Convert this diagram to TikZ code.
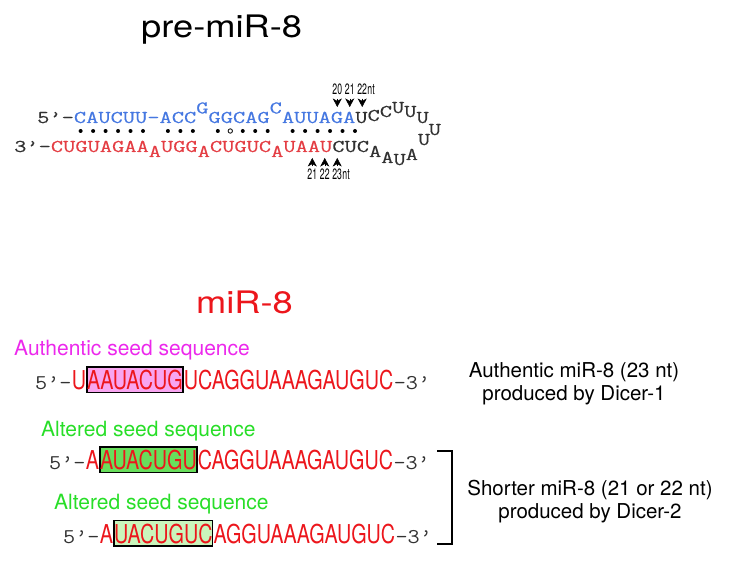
\documentclass[tikz,border=0pt]{standalone}
\usepackage{fontspec}
\usepackage{graphicx}
\setmainfont{TeX Gyre Heros}
\newfontfamily\stemfont{Latin Modern Mono}[FakeStretch=1.32, FakeBold=0.4]
\newfontfamily\endfont{Latin Modern Mono}[FakeStretch=1.12]
\usetikzlibrary{arrows.meta, positioning}

\definecolor{stemblue}{RGB}{70,120,225}
\definecolor{stemred}{RGB}{228,62,68}
\definecolor{stemgray}{RGB}{50,50,50}
\definecolor{seqred}{RGB}{236,22,28}
\definecolor{authpink}{RGB}{236,40,236}
\definecolor{altgreen}{RGB}{40,222,40}
\definecolor{seedpink}{RGB}{248,165,240}
\definecolor{seedgreen}{RGB}{104,222,92}
\definecolor{seedpale}{RGB}{202,245,188}

\newcommand{\seqnarrow}[1]{\scalebox{0.76}[1]{#1}}
\newcommand{\titlewide}[1]{\scalebox{1.17}[1]{#1}}
\newcommand{\cutnarrow}[1]{\scalebox{0.58}[1]{#1}}
\newcommand{\nlift}[2]{\raisebox{#1pt}{#2}}

\begin{document}
\begin{tikzpicture}[
    x=1pt, y=-1pt,
    titletxt/.style={font=\fontsize{31}{31}\selectfont, inner sep=0pt, anchor=base west},
    stemtxt/.style={font=\stemfont\fontsize{18}{18}\selectfont, text=stemgray, inner sep=0pt, anchor=base west},
    seqtxt/.style={font=\endfont\fontsize{21}{21}\selectfont, text=stemgray, inner sep=0pt, anchor=base west},
    seqred/.style={font=\fontsize{26}{26}\selectfont, text=seqred, inner sep=0pt, anchor=base west},
    seedbox/.style={seqred, draw=black, line width=1.6pt, text height=23pt, text depth=2.5pt},
    seedlbl/.style={font=\fontsize{21}{21}\selectfont, inner sep=0pt, anchor=base west},
    note/.style={font=\fontsize{20.5}{22.5}\selectfont, align=center, inner sep=0pt},
    cutlbl/.style={font=\fontsize{15}{15}\selectfont, inner sep=0pt},
    cutmark/.style={-{Stealth[length=8.5pt, width=9pt, inset=2.5pt]}},
    pairdot/.style={fill=black},
    bracketline/.style={line width=1.2pt}
]
    \useasboundingbox (0,0) rectangle (732,564);

    % pre-miR-8 hairpin
    \node[titletxt] (pre) at (141,38) {\titlewide{pre-miR-8}};

    \node[stemtxt] (top) at (37,123) {5\textquoteright-\textcolor{stemblue}{CAUCUU-ACC\nlift{9.5}{G}GGCAG\nlift{9.5}{C}AUUAGA}U\nlift{2}{C}\nlift{6}{C}\nlift{10}{U}\nlift{6}{U}U\nlift{-12}{U}};
    \node[stemtxt] (bot) at (14,152) {3\textquoteright-\textcolor{stemred}{CUGUAGAA\nlift{-5}{A}UGG\nlift{-5}{A}CUGUC\nlift{-5}{A}UAAU}CUC\nlift{-5}{A}\nlift{-11}{A}\nlift{-13}{U}\nlift{-8}{A}\nlift{7}{U}};

    % base pairs
    \foreach \k in {3,4,5,6,7,8,10,11,12,14,16,17,18,20,21,22,23,24,25}
        \fill[pairdot] ({37+12.47*(\k+0.5)},131) circle (2pt);
    \draw[line width=0.8pt] ({37+12.47*15.5},131) circle (2.2pt);

    % Dicer cleavage sites
    \foreach \n/\k in {20/24,21/25,22/26} {
        \node[cutlbl] (u\n) at ({38+12.47*\k},89.5) {\cutnarrow{\n}};
        \coordinate (cu\n) at ({38+12.47*\k},107);
        \draw[cutmark, shorten <=3.7pt] (u\n) -- (cu\n);
    }
    \node[cutlbl, anchor=base west] (ntu) at (u22.base east) {\cutnarrow{nt}};
    \foreach \n/\k in {21/24,22/25,23/26} {
        \node[cutlbl] (d\n) at ({13+12.47*\k},174) {\cutnarrow{\n}};
        \coordinate (cd\n) at ({13+12.47*\k},158);
        \draw[cutmark, shorten <=2.2pt] (d\n) -- (cd\n);
    }
    \node[cutlbl, anchor=base west] (ntd) at (d23.base east) {\cutnarrow{nt}};

    % mature miR-8
    \node[titletxt, text=seqred] (mir) at (196,314) {\titlewide{miR-8}};

    \node[seedlbl, text=authpink] (lbl1) at (14,356) {Authentic seed sequence};
    \node[seqtxt] (p1) at (35,390) {5\textquoteright-};
    \node[seqred] (a1) at (p1.base east) {\seqnarrow{U}};
    \node[seedbox, fill=seedpink] (s1) at (a1.base east) {\seqnarrow{AAUACUG}};
    \node[seqred] (b1) at (s1.base east) {\seqnarrow{UCAGGUAAAGAUGUC}};
    \node[seqtxt] (q1) at (b1.base east) {-3\textquoteright};

    \node[seedlbl, text=altgreen] (lbl2) at (41,437) {Altered seed sequence};
    \node[seqtxt] (p2) at (49,470) {5\textquoteright-};
    \node[seqred] (a2) at (p2.base east) {\seqnarrow{A}};
    \node[seedbox, fill=seedgreen] (s2) at (a2.base east) {\seqnarrow{AUACUGU}};
    \node[seqred] (b2) at (s2.base east) {\seqnarrow{CAGGUAAAGAUGUC}};
    \node[seqtxt] (q2) at (b2.base east) {-3\textquoteright};

    \node[seedlbl, text=altgreen] (lbl3) at (54,509) {Altered seed sequence};
    \node[seqtxt] (p3) at (63,543.5) {5\textquoteright-};
    \node[seqred] (a3) at (p3.base east) {\seqnarrow{A}};
    \node[seedbox, fill=seedpale] (s3) at (a3.base east) {\seqnarrow{UACUGUC}};
    \node[seqred] (b3) at (s3.base east) {\seqnarrow{AGGUAAAGAUGUC}};
    \node[seqtxt] (q3) at (b3.base east) {-3\textquoteright};

    % products
    \node[note] (auth) at (574,384) {Authentic miR-8 (23 nt)\\produced by Dicer-1};
    \node[note] (short) at (590,501.5) {Shorter miR-8 (21 or 22 nt)\\produced by Dicer-2};
    \coordinate (brtop) at (437,451);
    \coordinate (brbot) at (437,544);
    \draw[bracketline] (brtop) -- ++(15,0) |- (brbot);
\end{tikzpicture}
\end{document}
